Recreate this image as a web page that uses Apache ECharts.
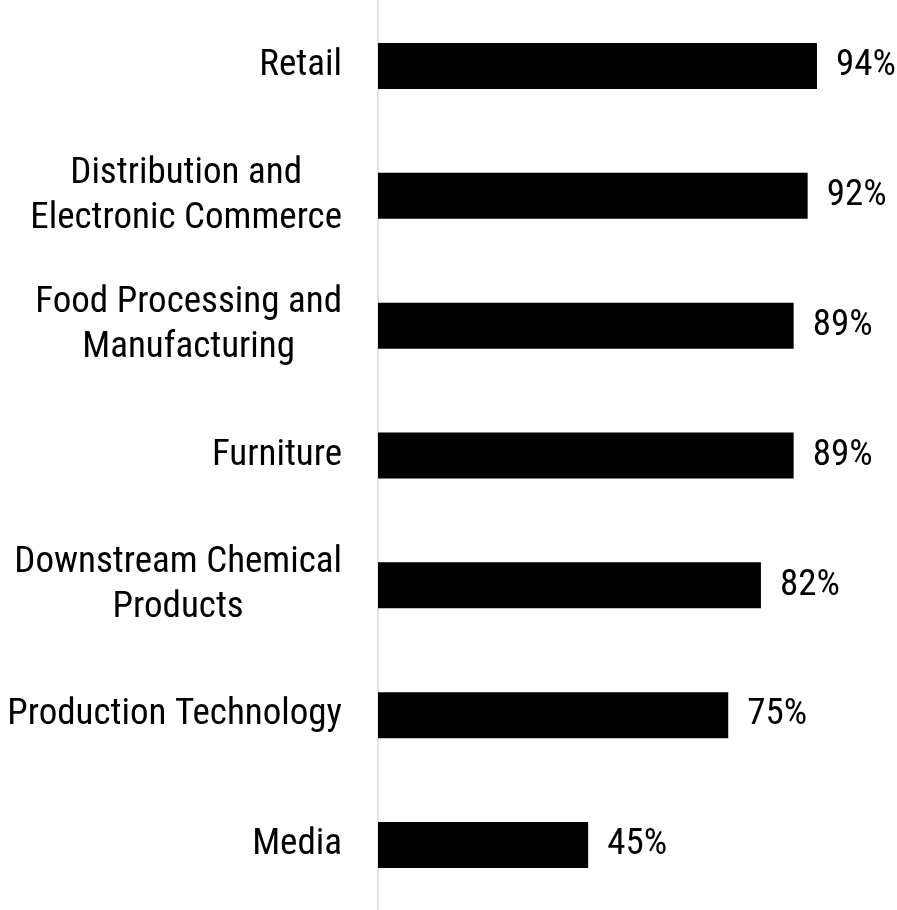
<!DOCTYPE html>
<html>
<head>
<meta charset="utf-8">
<script src="https://cdn.jsdelivr.net/npm/echarts@6/dist/echarts.min.js"></script>
<style>
  html, body { margin: 0; padding: 0; background: #ffffff; }
  #chart { width: 897px; height: 910px; }
</style>
</head>
<body>
<div id="chart"></div>
<script>
// Industry categories, top to bottom
const categories = [
  'Retail',
  'Distribution and\nElectronic Commerce',
  'Food Processing and\nManufacturing',
  'Furniture',
  'Downstream Chemical\nProducts',
  'Production Technology',
  'Media'
];

// Share per industry, in percent
const values = [94, 92, 89, 89, 82, 75, 45];

const FONT = "'Roboto Condensed', 'Liberation Sans Narrow', 'DejaVu Sans Condensed', Roboto, sans-serif";
const SIZE = 37;

const chart = echarts.init(document.getElementById('chart'), null, { renderer: 'canvas' });

chart.setOption({
  backgroundColor: '#ffffff',
  animation: false,
  grid: { left: 378, top: 1, width: 467, height: 910, containLabel: false },
  xAxis: {
    type: 'value',
    min: 0,
    max: 100,
    show: false
  },
  yAxis: {
    type: 'category',
    data: categories,
    inverse: true,
    axisLine: { show: true, lineStyle: { color: '#d9d9d9', width: 1.5 } },
    axisTick: { show: false },
    splitLine: { show: false },
    axisLabel: {
      margin: 36,
      fontFamily: FONT,
      fontSize: SIZE,
      color: '#000000',
      formatter: function (v) {
        return v.split('\n').map(function (line) { return '{c|' + line + '}'; }).join('\n');
      },
      rich: {
        c: { align: 'center', fontFamily: FONT, fontSize: SIZE, lineHeight: 45, color: '#000000' }
      }
    }
  },
  series: [{
    type: 'bar',
    data: values,
    barWidth: 46,
    itemStyle: { color: '#000000' },
    label: {
      show: true,
      position: 'right',
      distance: 19,
      formatter: '{c}%',
      fontFamily: FONT,
      fontSize: SIZE,
      color: '#000000'
    }
  }]
});
</script>
</body>
</html>
